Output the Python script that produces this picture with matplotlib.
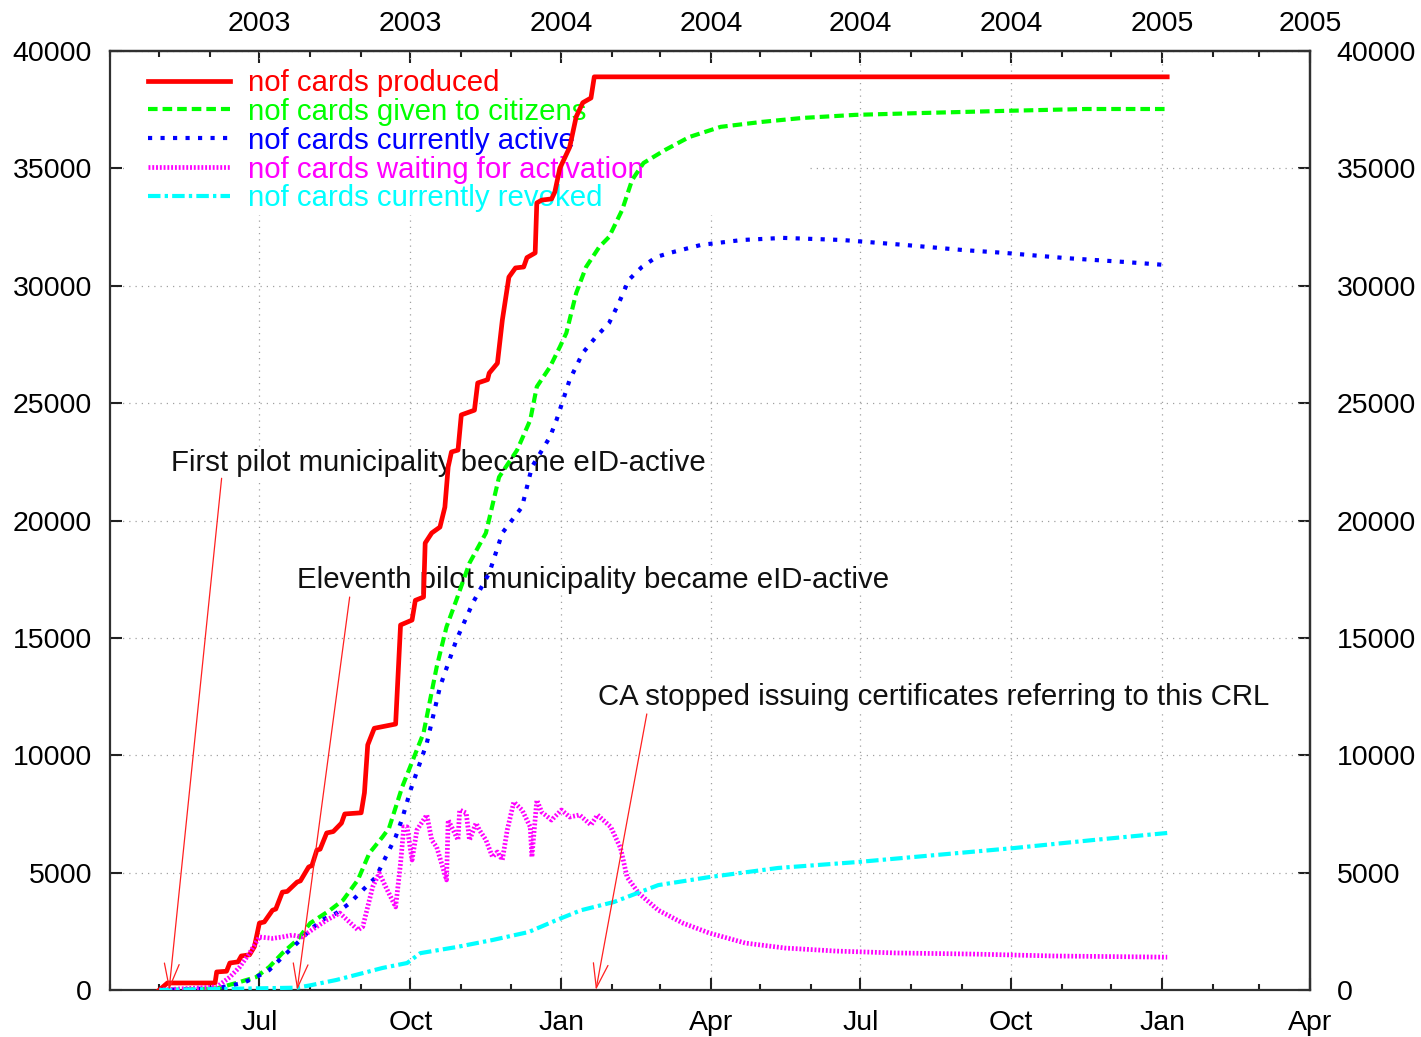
import matplotlib
matplotlib.use("Agg")
import matplotlib.pyplot as plt
import matplotlib.dates as mdates
from matplotlib.patches import Rectangle
import pandas as pd

plt.rcParams['font.family'] = ['Liberation Sans', 'DejaVu Sans']
plt.rcParams['font.size'] = 20.5

def num(dates):
    return mdates.date2num(pd.to_datetime(dates))

# nof cards produced
produced_dates = ['2003-05-01', '2003-05-06', '2003-06-04', '2003-06-05', '2003-06-11', '2003-06-13',
                  '2003-06-18', '2003-06-20', '2003-06-25', '2003-06-28', '2003-07-01', '2003-07-04',
                  '2003-07-09', '2003-07-11', '2003-07-15', '2003-07-18', '2003-07-24', '2003-07-26',
                  '2003-07-31', '2003-08-02', '2003-08-05', '2003-08-07', '2003-08-11', '2003-08-15',
                  '2003-08-20', '2003-08-22', '2003-09-01', '2003-09-03', '2003-09-05', '2003-09-09',
                  '2003-09-22', '2003-09-25', '2003-10-02', '2003-10-04', '2003-10-09', '2003-10-10',
                  '2003-10-14', '2003-10-19', '2003-10-22', '2003-10-24', '2003-10-26', '2003-10-30',
                  '2003-11-01', '2003-11-09', '2003-11-11', '2003-11-17', '2003-11-18', '2003-11-23',
                  '2003-11-26', '2003-11-30', '2003-12-04', '2003-12-09', '2003-12-11', '2003-12-16',
                  '2003-12-17', '2003-12-20', '2003-12-26', '2003-12-28', '2003-12-31', '2004-01-06',
                  '2004-01-10', '2004-01-14', '2004-01-19', '2004-01-21', '2005-01-04']
produced = [0, 300, 300, 770, 800, 1150,
            1200, 1450, 1500, 1850, 2850, 2900,
            3400, 3450, 4170, 4200, 4600, 4650,
            5240, 5300, 5960, 6000, 6690, 6750,
            7110, 7500, 7550, 8400, 10440, 11150,
            11330, 15550, 15760, 16600, 16740, 19040,
            19470, 19720, 20570, 22280, 22920, 23000,
            24500, 24700, 25860, 26000, 26280, 26700,
            28540, 30370, 30760, 30800, 31200, 31400,
            33530, 33650, 33700, 34000, 35000, 35900,
            37200, 37800, 38000, 38900, 38900]

# nof cards given to citizens
given_dates = ['2003-05-07', '2003-06-05', '2003-06-17', '2003-06-29', '2003-07-07', '2003-07-15',
               '2003-07-24', '2003-08-01', '2003-08-13', '2003-08-21', '2003-08-30', '2003-09-06',
               '2003-09-14', '2003-09-18', '2003-09-26', '2003-10-09', '2003-10-17', '2003-10-23',
               '2003-10-29', '2003-11-06', '2003-11-16', '2003-11-24', '2003-12-05', '2003-12-13',
               '2003-12-17', '2003-12-25', '2003-12-31', '2004-01-04', '2004-01-10', '2004-01-16',
               '2004-01-24', '2004-01-30', '2004-02-07', '2004-02-13', '2004-02-20', '2004-03-04',
               '2004-03-19', '2004-04-07', '2004-05-02', '2004-05-27', '2004-06-28', '2004-08-08',
               '2004-09-27', '2004-11-15', '2005-01-04']
given = [0, 70, 300, 550, 980, 1570,
         2130, 2850, 3400, 3830, 4690, 5830,
         6520, 6900, 8650, 10950, 13760, 15470,
         16610, 18190, 19470, 21850, 23000, 24280,
         25700, 26540, 27390, 27990, 29690, 30800,
         31650, 32080, 33230, 34500, 35230, 35780,
         36340, 36770, 36980, 37150, 37280, 37360,
         37450, 37530, 37530]

# nof cards currently active
active_dates = ['2003-05-01', '2003-06-05', '2003-06-21', '2003-06-29', '2003-07-07', '2003-07-15',
                '2003-07-24', '2003-08-01', '2003-08-08', '2003-08-17', '2003-08-25', '2003-09-02',
                '2003-09-10', '2003-09-16', '2003-09-22', '2003-09-26', '2003-10-01', '2003-10-11',
                '2003-10-19', '2003-10-29', '2003-11-08', '2003-11-18', '2003-11-26', '2003-12-08',
                '2003-12-14', '2003-12-25', '2003-12-29', '2004-01-06', '2004-01-14', '2004-01-22',
                '2004-01-30', '2004-02-05', '2004-02-11', '2004-02-19', '2004-02-28', '2004-03-07',
                '2004-03-26', '2004-04-20', '2004-05-15', '2004-06-20', '2004-07-28', '2004-09-02',
                '2004-09-27', '2004-11-03', '2004-12-10', '2005-01-04']
active = [0, 70, 300, 550, 850, 1400,
          2000, 2560, 2980, 3280, 3700, 4260,
          4810, 5670, 6520, 7300, 8500, 10520,
          12910, 14910, 16490, 17760, 19470, 20580,
          22280, 23560, 24280, 25990, 27140, 27820,
          28410, 29270, 30250, 30800, 31230, 31400,
          31740, 31950, 32040, 31950, 31740, 31520,
          31400, 31180, 31010, 30880]

# nof cards waiting for activation
waiting_dates = ['2003-05-01', '2003-06-05', '2003-06-13', '2003-06-19', '2003-06-25', '2003-07-01',
                 '2003-07-09', '2003-07-15', '2003-07-21', '2003-07-27', '2003-08-02', '2003-08-11',
                 '2003-08-19', '2003-08-30', '2003-09-02', '2003-09-08', '2003-09-12', '2003-09-16',
                 '2003-09-22', '2003-09-25', '2003-09-27', '2003-09-29', '2003-10-02', '2003-10-05',
                 '2003-10-11', '2003-10-14', '2003-10-17', '2003-10-23', '2003-10-24', '2003-10-27',
                 '2003-10-30', '2003-10-31', '2003-11-04', '2003-11-06', '2003-11-10', '2003-11-12',
                 '2003-11-16', '2003-11-20', '2003-11-23', '2003-11-26', '2003-11-29', '2003-12-03',
                 '2003-12-08', '2003-12-13', '2003-12-14', '2003-12-17', '2003-12-20', '2003-12-26',
                 '2004-01-01', '2004-01-06', '2004-01-12', '2004-01-19', '2004-01-23', '2004-01-31',
                 '2004-02-06', '2004-02-10', '2004-02-17', '2004-02-29', '2004-03-15', '2004-03-31',
                 '2004-04-22', '2004-05-16', '2004-06-16', '2004-07-22', '2004-09-09', '2004-10-27',
                 '2005-01-04']
waiting = [0, 130, 550, 980, 1570, 2260,
           2200, 2260, 2340, 2260, 2560, 2980,
           3280, 2560, 2700, 4390, 4980, 4390,
           3540, 5400, 6950, 6950, 5540, 6820,
           7460, 6390, 6090, 4690, 7240, 6820,
           6390, 7670, 7540, 6390, 7110, 6820,
           6390, 5670, 5880, 5540, 6820, 8010,
           7670, 6950, 5670, 8090, 7580, 7240,
           7670, 7370, 7460, 7030, 7460, 6950,
           6050, 4810, 4130, 3400, 2850, 2430,
           2000, 1790, 1660, 1580, 1530, 1450,
           1400]

# nof cards currently revoked
revoked_dates = ['2003-05-01', '2003-07-24', '2003-08-01', '2003-08-17', '2003-09-02', '2003-09-14',
                 '2003-09-29', '2003-10-07', '2003-10-29', '2003-11-20', '2003-12-12', '2003-12-29',
                 '2004-01-13', '2004-02-02', '2004-02-29', '2004-03-31', '2004-05-12', '2004-06-29',
                 '2004-08-16', '2004-10-03', '2004-11-20', '2005-01-04']
revoked = [0, 100, 200, 430, 720, 940,
           1150, 1570, 1830, 2130, 2470, 2980,
           3400, 3750, 4470, 4810, 5200, 5450,
           5750, 6050, 6390, 6690]

quarter_ticks = ['2003-07-01', '2003-10-01', '2004-01-01', '2004-04-01',
                 '2004-07-01', '2004-10-01', '2005-01-01', '2005-04-01']
month_labels = ['Jul', 'Oct', 'Jan', 'Apr', 'Jul', 'Oct', 'Jan', 'Apr']
year_labels = ['2003', '2003', '2004', '2004', '2004', '2004', '2005', '2005']
y_ticks = list(range(0, 40001, 5000))

notes = ['First pilot municipality became eID-active',
         'Eleventh pilot municipality became eID-active',
         'CA stopped issuing certificates referring to this CRL']
note_pos = [('2003-05-08', 22450), ('2003-07-24', 17470), ('2004-01-23', 12480)]
arrow_from = [('2003-06-08', 21800), ('2003-08-25', 16740), ('2004-02-22', 11760)]
arrow_to = [('2003-05-07', 0), ('2003-07-24', 0), ('2004-01-22', 0)]

fig = plt.figure(figsize=(14.21, 10.37), dpi=100)
ax = fig.add_axes([0.0774, 0.0453, 0.8445, 0.9055])

months = mdates.date2num(pd.date_range('2003-04-01', '2005-04-01', freq='MS'))
qt = num(quarter_ticks)

ax.set_xlim(num(['2003-04-01'])[0], num(['2005-04-01'])[0])
ax.set_ylim(0, 40000)

grid_kw = dict(color='#a0a0a0', lw=0.9, ls=(0, (1, 4)), zorder=0.5)
for q in qt:
    ax.axvline(q, **grid_kw)
for v in y_ticks:
    ax.axhline(v, **grid_kw)

# gnuplot clears the grid behind the key
ax.add_patch(Rectangle((0.012, 0.8253), 0.5705, 0.162, transform=ax.transAxes,
                       fc='white', ec='none', zorder=1))

ax.plot(num(produced_dates), produced, color='#ff0000', lw=3.4, zorder=3,
        label='nof cards produced')
ax.plot(num(given_dates), given, color='#00ff00', lw=3, dashes=[2.3, 1.2], zorder=3,
        label='nof cards given to citizens')
ax.plot(num(active_dates), active, color='#0000ff', lw=3, dashes=[1, 2], zorder=3,
        label='nof cards currently active')
ax.plot(num(waiting_dates), waiting, color='#ff00ff', lw=3.4, dashes=[0.4, 0.4], zorder=3,
        label='nof cards waiting for activation')
ax.plot(num(revoked_dates), revoked, color='#00ffff', lw=3, dashes=[3, 1, 0.8, 1], zorder=3,
        label='nof cards currently revoked')

for txt, (d, v) in zip(notes, note_pos):
    ax.text(num([d])[0], v, txt, ha='left', va='center', color='#111111', zorder=2,
            fontsize=21.2, bbox=dict(fc='white', ec='none', pad=0.5))
for (d0, v0), (d1, v1) in zip(arrow_from, arrow_to):
    ax.annotate('', xy=(num([d1])[0], v1), xytext=(num([d0])[0], v0), zorder=3,
                arrowprops=dict(arrowstyle='->,head_length=0.85,head_width=0.26',
                                color='#ff2020', lw=0.9, shrinkA=0, shrinkB=0))

leg = ax.legend(loc='upper left', bbox_to_anchor=(0.0317, 0.981), frameon=False,
                borderpad=0, borderaxespad=0, handlelength=2.8, handletextpad=0.6,
                labelspacing=0.03, labelcolor='linecolor', fontsize=21.2)
leg.set_zorder(2.5)

ax.set_xticks(qt, labels=month_labels)
ax.set_xticks(months, minor=True)
ax.set_yticks(y_ticks)
ax.tick_params(which='both', direction='in', top=False, right=False, width=1.5, color='#202020')
ax.tick_params(which='major', length=8.5)
ax.tick_params(which='minor', length=4.5)
ax.tick_params(axis='x', pad=14.5)
ax.tick_params(axis='y', pad=13)

secx = ax.secondary_xaxis('top')
secx.set_xticks(qt, labels=year_labels)
secx.set_xticks(months, minor=True)
secx.tick_params(which='both', direction='in', width=1.5, color='#202020', pad=10)
secx.tick_params(which='major', length=8.5)
secx.tick_params(which='minor', length=4.5)

secy = ax.secondary_yaxis('right')
secy.set_yticks(y_ticks)
secy.tick_params(direction='in', width=1.5, length=8.5, color='#202020', pad=19)

for a in (ax, secx, secy):
    for s in a.spines.values():
        s.set_color('#303030')
        s.set_linewidth(1.6)

fig.savefig('out.png', dpi=100)
